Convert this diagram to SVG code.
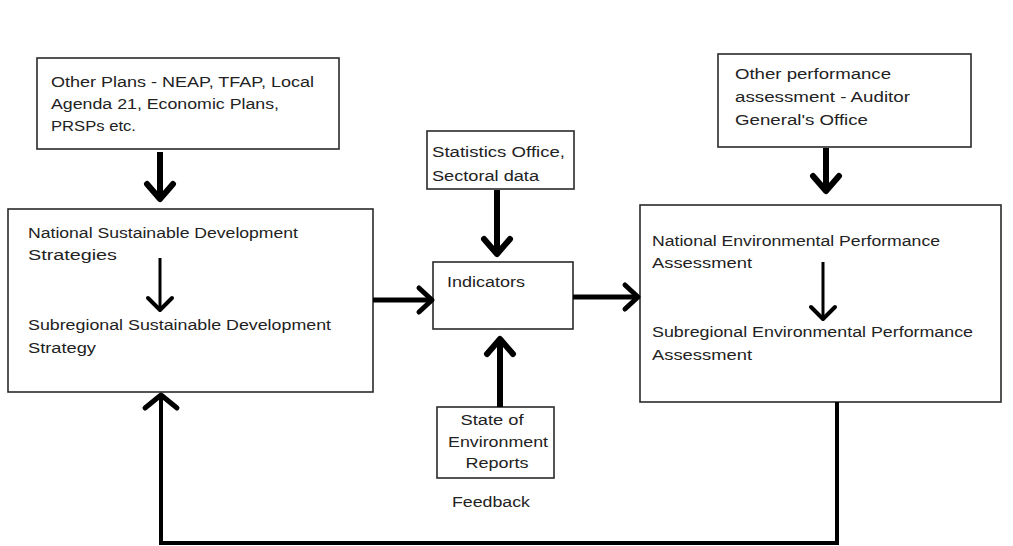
<svg xmlns="http://www.w3.org/2000/svg" width="1013" height="546" viewBox="0 0 1013 546">
  <style>
    .box { fill: #ffffff; stroke: #2a2a2a; stroke-width: 1.6; }
    .lbl { font-family: "Liberation Sans", Arial, sans-serif; font-size: 14px; fill: #222222; }
    .heavy { fill: none; stroke: #000; stroke-width: 6; stroke-linejoin: round; stroke-linecap: butt; }
    .side { fill: none; stroke: #000; stroke-width: 5; stroke-linejoin: round; stroke-linecap: butt; }
    .light { fill: none; stroke: #000; stroke-width: 3; stroke-linejoin: round; stroke-linecap: butt; }
    .loop { fill: none; stroke: #000; stroke-width: 4; stroke-linejoin: miter; stroke-linecap: butt; }
  </style>
  <defs>
    <marker id="headHeavy" markerUnits="userSpaceOnUse" markerWidth="40" markerHeight="40" refX="0" refY="0" viewBox="-25 -20 30 40" orient="auto" overflow="visible">
      <path d="M-15,-13 L0,0 L-15,13" fill="none" stroke="#000" stroke-width="6" stroke-linejoin="round" stroke-linecap="round"/>
    </marker>
    <marker id="headSide" markerUnits="userSpaceOnUse" markerWidth="40" markerHeight="40" refX="0" refY="0" viewBox="-25 -20 30 40" orient="auto" overflow="visible">
      <path d="M-13,-12 L0,0 L-13,12" fill="none" stroke="#000" stroke-width="5" stroke-linejoin="round" stroke-linecap="round"/>
    </marker>
    <marker id="headLight" markerUnits="userSpaceOnUse" markerWidth="40" markerHeight="40" refX="0" refY="0" viewBox="-25 -20 30 40" orient="auto" overflow="visible">
      <path d="M-12,-12 L0,0 L-12,12" fill="none" stroke="#000" stroke-width="4" stroke-linejoin="round" stroke-linecap="round"/>
    </marker>
    <marker id="headLoop" markerUnits="userSpaceOnUse" markerWidth="40" markerHeight="40" refX="0" refY="0" viewBox="-25 -20 30 40" orient="auto" overflow="visible">
      <path d="M-13,-16 L0,0 L-13,16" fill="none" stroke="#000" stroke-width="5" stroke-linejoin="round" stroke-linecap="round"/>
    </marker>
  </defs>

  <rect width="1013" height="546" fill="#ffffff"/>

  <g id="other-plans">
    <rect class="box" x="37" y="58" width="302" height="91"/>
    <text class="lbl" x="51" y="87" textLength="263" lengthAdjust="spacingAndGlyphs">Other Plans - NEAP, TFAP, Local</text>
    <text class="lbl" x="51" y="109" textLength="228" lengthAdjust="spacingAndGlyphs">Agenda 21, Economic Plans,</text>
    <text class="lbl" x="51" y="131" textLength="85" lengthAdjust="spacingAndGlyphs">PRSPs etc.</text>
  </g>

  <g id="nsds">
    <rect class="box" x="8" y="209" width="365" height="183"/>
    <text class="lbl" x="28" y="238" textLength="270" lengthAdjust="spacingAndGlyphs">National Sustainable Development</text>
    <text class="lbl" x="28" y="260" textLength="89" lengthAdjust="spacingAndGlyphs">Strategies</text>
    <text class="lbl" x="28" y="330" textLength="303" lengthAdjust="spacingAndGlyphs">Subregional Sustainable Development</text>
    <text class="lbl" x="28" y="353" textLength="68" lengthAdjust="spacingAndGlyphs">Strategy</text>
  </g>

  <g id="statistics">
    <rect class="box" x="427" y="131" width="147" height="58"/>
    <text class="lbl" x="432" y="157" textLength="133" lengthAdjust="spacingAndGlyphs">Statistics Office,</text>
    <text class="lbl" x="432" y="181" textLength="107" lengthAdjust="spacingAndGlyphs">Sectoral data</text>
  </g>

  <g id="indicators">
    <rect class="box" x="433" y="262" width="140" height="67"/>
    <text class="lbl" x="447" y="287" textLength="78" lengthAdjust="spacingAndGlyphs">Indicators</text>
  </g>

  <g id="soe-reports">
    <rect class="box" x="437" y="407" width="117" height="71"/>
    <text class="lbl" x="492" y="425" text-anchor="middle" textLength="63" lengthAdjust="spacingAndGlyphs">State of</text>
    <text class="lbl" x="498" y="447" text-anchor="middle" textLength="100" lengthAdjust="spacingAndGlyphs">Environment</text>
    <text class="lbl" x="497" y="468" text-anchor="middle" textLength="63" lengthAdjust="spacingAndGlyphs">Reports</text>
  </g>

  <g id="other-assessment">
    <rect class="box" x="718" y="54" width="253" height="93"/>
    <text class="lbl" x="735" y="79" textLength="156" lengthAdjust="spacingAndGlyphs">Other performance</text>
    <text class="lbl" x="735" y="102" textLength="175" lengthAdjust="spacingAndGlyphs">assessment - Auditor</text>
    <text class="lbl" x="735" y="125" textLength="133" lengthAdjust="spacingAndGlyphs">General's Office</text>
  </g>

  <g id="nepa">
    <rect class="box" x="640" y="205" width="361" height="197"/>
    <text class="lbl" x="652" y="246" textLength="288" lengthAdjust="spacingAndGlyphs">National Environmental Performance</text>
    <text class="lbl" x="652" y="268" textLength="100" lengthAdjust="spacingAndGlyphs">Assessment</text>
    <text class="lbl" x="652" y="337" textLength="321" lengthAdjust="spacingAndGlyphs">Subregional Environmental Performance</text>
    <text class="lbl" x="652" y="360" textLength="100" lengthAdjust="spacingAndGlyphs">Assessment</text>
  </g>

  <g id="feedback-label">
    <text class="lbl" x="452" y="507" textLength="78" lengthAdjust="spacingAndGlyphs">Feedback</text>
  </g>

  <g id="connectors">
    <path class="heavy" d="M160,152 L160,199" marker-end="url(#headHeavy)"/>
    <path class="light" d="M160,258 L160,310" marker-end="url(#headLight)"/>
    <path class="heavy" d="M497,190 L497,254" marker-end="url(#headHeavy)"/>
    <path class="heavy" d="M500,407 L500,339" marker-end="url(#headHeavy)"/>
    <path class="side" d="M373,300 L432,300" marker-end="url(#headSide)"/>
    <path class="side" d="M573,297 L638,297" marker-end="url(#headSide)"/>
    <path class="heavy" d="M826,148 L826,191" marker-end="url(#headHeavy)"/>
    <path class="light" d="M823,262 L823,319" marker-end="url(#headLight)"/>
    <path class="loop" d="M837,402 L837,543 L161,543 L161,395" marker-end="url(#headLoop)"/>
  </g>
</svg>
